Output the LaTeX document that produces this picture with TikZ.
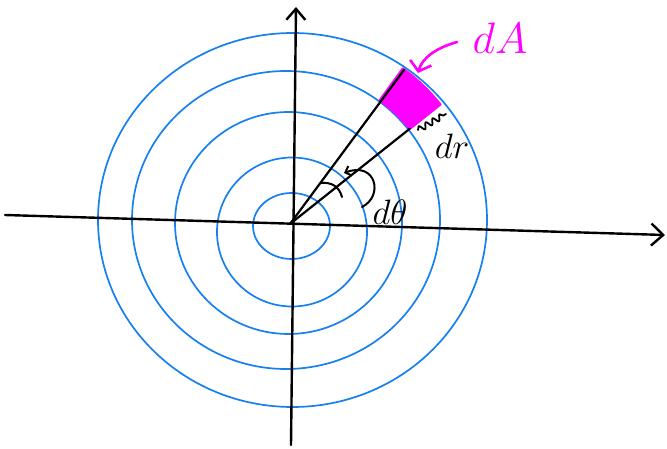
\documentclass[tikz,border=0pt]{standalone}
\usepackage{amsmath,amssymb}
\usepackage{xcolor}
\usepackage{tikz}
\usetikzlibrary{arrows.meta,positioning,decorations.pathmorphing}
\definecolor{ringblue}{RGB}{22,128,238}
\definecolor{areapink}{RGB}{255,0,255}

\begin{document}
\begin{tikzpicture}[
  x=1pt,y=1pt,
  >={Straight Barb[length=12pt,width=22pt]},
  axis/.style={->,line width=2.4pt,black,line cap=round},
  ring/.style={ringblue,line width=1.7pt},
  ray/.style={line width=2.2pt,black,line cap=round},
  patch/.style={fill=areapink,draw=areapink,line width=2.5pt,line join=round},
  anglemark/.style={line width=2pt,black,line cap=round,line join=round},
  tag/.style={inner sep=0pt,font=\huge,scale=1.7}
]
\useasboundingbox (0,0) rectangle (667,448);
\coordinate (origin) at (290,224);
\coordinate (xleft) at (5,233);
\coordinate (xright) at (665,213);
\coordinate (ybottom) at (291,3);
\coordinate (ytop) at (296,441);
\foreach \cx/\cy/\rx/\ry in {291.5/222/38.5/33, 292/216/75/74.5, 288.5/225/113.5/111, 286/228/154/149, 292.5/228/194.5/187}
  \draw[ring] (\cx,\cy) ellipse [x radius=\rx,y radius=\ry];
\draw[axis] (xleft) -- (xright);
\draw[axis,>={Straight Barb[length=11pt,width=19pt]}] (ybottom) -- (ytop);
\coordinate (rayhi) at ([shift={(53.5:192)}]origin);
\coordinate (raylo) at ([shift={(38.5:153)}]origin);
\draw[patch] ([shift={(38.5:153)}]origin) arc[start angle=38.5,end angle=54,radius=153]
  -- ([shift={(54:192)}]origin) arc[start angle=54,end angle=38.5,radius=192] -- cycle;
\draw[ray] (origin) -- (rayhi);
\draw[ray] (origin) -- (raylo);
\coordinate (dthetahi) at (321,265);
\coordinate (dthetalo) at (342,251);
\coordinate (dthetatail) at (362,241);
\coordinate (dthetahead) at (344,275);
\draw[anglemark] (dthetahi) .. controls (331,266) and (339,262) .. (dthetalo);
\draw[anglemark,->,>={Straight Barb[length=5pt,width=10pt]}] (dthetatail) .. controls (384,252) and (376,287) .. (dthetahead);
\node[tag] (dtheta) at (390,236) {$d\theta$};
\coordinate (bracelo) at (418,318);
\coordinate (bracehi) at (446,334);
\draw[anglemark,line width=1.8pt,decorate,decoration={snake,segment length=8pt,amplitude=3pt}] (bracelo) -- (bracehi);
\node[tag] (dr) at (452,302) {$dr$};
\node[tag,text=areapink,scale=1.25] (dA) at (500,410) {$dA$};
\coordinate (dAtail) at (457,406);
\coordinate (dAhead) at (418,375);
\draw[->,areapink,line width=2.6pt,line cap=round,>={Straight Barb[length=9pt,width=22pt]}] (dAtail) .. controls (436,400) and (422,390) .. (dAhead);
\end{tikzpicture}
\end{document}
